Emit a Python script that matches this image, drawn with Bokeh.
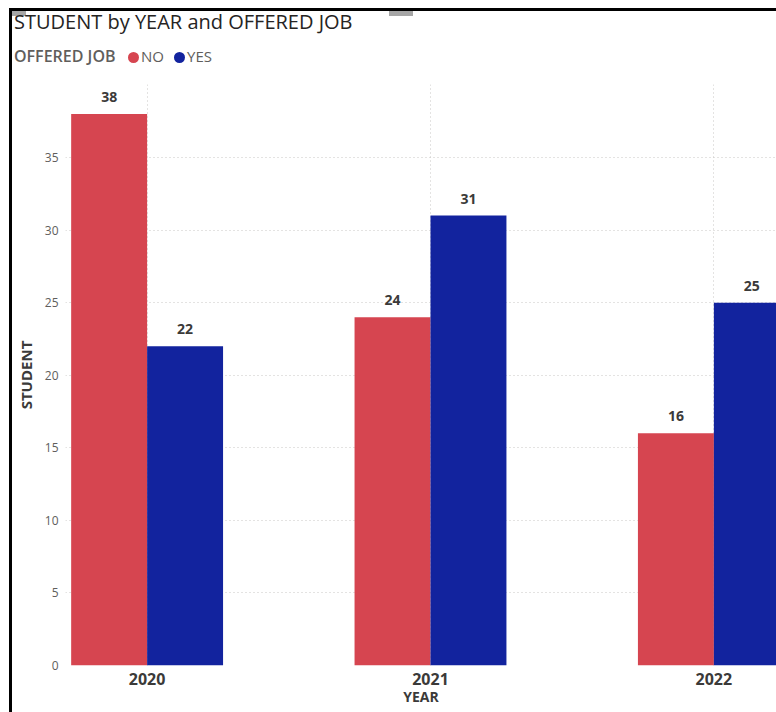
from bokeh.plotting import figure
from bokeh.models import ColumnDataSource, Range1d, FixedTicker, LabelSet, Div
from bokeh.layouts import column
from bokeh.transform import dodge
from bokeh.core.properties import value
from bokeh.embed import file_html
from bokeh.resources import INLINE

title_text = "STUDENT by YEAR and OFFERED JOB"
legend_title = "OFFERED JOB"
x_title = "YEAR"
y_title = "STUDENT"
years = ["2020", "2021", "2022"]
no_vals = [38, 24, 16]
yes_vals = [22, 31, 25]
series = ["NO", "YES"]
colors = ["#D64550", "#12239E"]
y_ticks = [0, 5, 10, 15, 20, 25, 30, 35]

FONT = "Open Sans"
DARK = "#3B3A39"
GREY = "#605E5C"

# ---------------- header (title + legend) ----------------
OX, OY = 12, 11          # content origin inside the window frame
FRAME_TOP = 84           # page y where the plot frame starts
HEAD_H = FRAME_TOP - OY
circ_left = [116, 162]
txt_left = [129, 175]
legend_html = "".join(
    f'<span style="position:absolute;left:{circ_left[i]}px;top:41px;width:11px;height:11px;'
    f'border-radius:50%;background:{colors[i]};"></span>'
    f'<span style="position:absolute;left:{txt_left[i]}px;top:38px;font-size:15px;line-height:1;'
    f'color:{GREY};white-space:nowrap;">{s}</span>'
    for i, s in enumerate(series)
)
header_html = (
    f'<div style="position:relative;width:{776 - OX}px;height:{HEAD_H}px;font-family:\'Open Sans\';">'
    '<span style="position:absolute;left:0px;top:0px;width:14px;height:5px;background:#A6A6A6;"></span>'
    '<span style="position:absolute;left:377px;top:0px;width:24px;height:5px;background:#A6A6A6;"></span>'
    f'<span style="position:absolute;left:2px;top:1px;font-size:20px;line-height:1;color:#252423;'
    f'white-space:nowrap;">{title_text}</span>'
    f'<span style="position:absolute;left:2px;top:37px;font-size:16px;line-height:1;font-weight:600;'
    f'color:{GREY};white-space:nowrap;">{legend_title}</span>'
    + legend_html +
    '</div>'
)
header = Div(text=header_html, width=776 - OX, height=HEAD_H, margin=0)

# ---------------- chart ----------------
xs = list(range(len(years)))
src = ColumnDataSource(dict(
    x=xs, no=no_vals, yes=yes_vals,
    no_lbl=[str(v) for v in no_vals], yes_lbl=[str(v) for v in yes_vals],
))

FIG_H = 712 - FRAME_TOP
p = figure(width=776 - OX, height=FIG_H, output_backend="svg", toolbar_location=None,
           x_range=Range1d(-0.288, 2.221), y_range=Range1d(0, 40.03),
           min_border_left=62 - OX, min_border_right=0, min_border_top=0,
           min_border_bottom=47, margin=0)
p.outline_line_color = None
p.background_fill_color = "white"
p.border_fill_color = "white"

off = 0.134
w = 0.268
p.vbar(x=dodge("x", -off, range=p.x_range), top="no", width=w, source=src,
       fill_color=colors[0], line_color=None)
p.vbar(x=dodge("x", off, range=p.x_range), top="yes", width=w, source=src,
       fill_color=colors[1], line_color=None)

lbl_kw = dict(text_font=value(FONT), text_font_size="14px", text_font_style="bold",
              text_color=DARK, text_align="center", text_baseline="bottom", y_offset=12)
p.add_layout(LabelSet(x=dodge("x", -off, range=p.x_range), y="no", text="no_lbl", source=src, **lbl_kw))
p.add_layout(LabelSet(x=dodge("x", off, range=p.x_range), y="yes", text="yes_lbl", source=src, **lbl_kw))

p.xaxis.ticker = FixedTicker(ticks=xs)
p.xaxis.major_label_overrides = {i: y for i, y in enumerate(years)}
p.yaxis.ticker = FixedTicker(ticks=y_ticks)
for ax in (p.xaxis[0], p.yaxis[0]):
    ax.axis_line_color = None
    ax.major_tick_line_color = None
    ax.minor_tick_line_color = None
    ax.major_tick_out = 0
    ax.major_tick_in = 0
p.xaxis.major_label_text_font = FONT
p.xaxis.major_label_text_font_size = "16px"
p.xaxis.major_label_text_font_style = "bold"
p.xaxis.major_label_text_color = DARK
p.xaxis.major_label_standoff = 7
p.xaxis.axis_label = x_title
p.xaxis.axis_label_text_font = FONT
p.xaxis.axis_label_text_font_size = "14px"
p.xaxis.axis_label_text_font_style = "bold"
p.xaxis.axis_label_text_color = DARK
p.xaxis.axis_label_standoff = -1

p.yaxis.major_label_text_font = FONT
p.yaxis.major_label_text_font_size = "12px"
p.yaxis.major_label_text_color = GREY
p.yaxis.major_label_standoff = 7
p.yaxis.axis_label = y_title
p.yaxis.axis_label_text_font = FONT
p.yaxis.axis_label_text_font_size = "15px"
p.yaxis.axis_label_text_font_style = "bold"
p.yaxis.axis_label_text_color = DARK
p.yaxis.axis_label_standoff = 6

for g in (p.xgrid[0], p.ygrid[0]):
    g.grid_line_color = "#C8C6C4"
    g.grid_line_dash = "1 3"
    g.grid_line_width = 1

layout = column(header, p, spacing=0)
layout.styles = {"margin-left": "9px", "margin-top": "8px",
                 "border-left": "3px solid black", "border-top": "3px solid black"}

open("out.html", "w").write(file_html(layout, INLINE))
